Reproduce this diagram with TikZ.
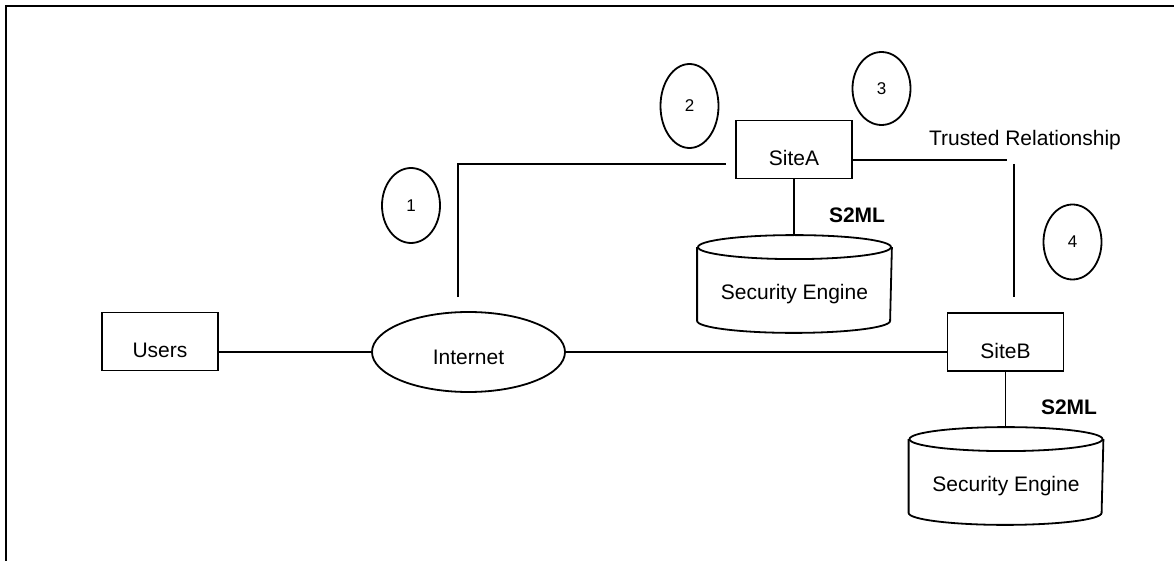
\documentclass[tikz,border=0pt]{standalone}
\usepackage{fontspec}
\setmainfont{Liberation Sans}
\usetikzlibrary{shapes.geometric}

\begin{document}
\begin{tikzpicture}[
    x=0.5pt, y=0.5pt,
    line width=0.9pt,
    font=\fontsize{10.5}{12}\selectfont,
    sitio/.style={draw, rectangle, inner sep=0pt, minimum width=58pt,
                  text height=22.75pt, text depth=6.25pt},
    paso/.style={draw, ellipse, inner sep=0pt, minimum width=29pt,
                 minimum height=37.5pt, font=\fontsize{8.5}{10}\selectfont},
    red/.style={draw, ellipse, inner sep=0pt, minimum width=96.5pt,
                minimum height=40pt, text height=12.5pt, text depth=0pt},
    motor/.style={inner sep=0pt, minimum width=96.5pt,
                  text height=31.75pt, text depth=16.25pt},
    etiq/.style={font=\fontsize{10.5}{12}\selectfont\bfseries},
    marco/.style={line width=1pt}
  ]
    \useasboundingbox (0,0) rectangle (1174,-561);
    \draw[marco] (6,-561) -- (6,-6) -- (1174,-6);

    % main chain
    \node[sitio] (users) at (160,-341.5) {Users};
    \node[red] (internet) at (468.5,-352) {Internet};
    \node[sitio] (siteA) at (794,-149.5) {SiteA};
    \node[sitio] (siteB) at (1005.5,-342) {SiteB};
    \node[motor] (engineA) at (794.5,-284) {Security Engine};
    \node[motor] (engineB) at (1006,-476) {Security Engine};

    % numbered steps
    \node[paso] (p1) at (411,-205.5) {1};
    \node[paso, minimum height=42pt] (p2) at (689.5,-106) {2};
    \node[paso, minimum height=36.5pt] (p3) at (881.5,-88.5) {3};
    \node[paso] (p4) at (1072.5,-242) {4};

    \node[etiq] (s2mlA) at (857,-215) {S2ML};
    \node[etiq] (s2mlB) at (1069,-407) {S2ML};
    \node (confianza) at (1025,-140) {Trusted Relationship};

    % cylinders behind the engine texts
    \foreach \e in {engineA,engineB} {
      \draw ([yshift=-6pt]\e.north west) -- ([yshift=6pt]\e.south west)
        arc[start angle=180, end angle=360, x radius=48.25pt, y radius=6pt]
        -- ([yshift=-6pt]\e.north east);
      \draw ([yshift=-6pt]\e.north) ellipse[x radius=48.25pt, y radius=6pt];
    }

    \coordinate (bendA) at (458,-164);
    \coordinate (trustH) at (1007,-160);
    \coordinate (trustV) at (1014,-164);

    \draw (users.east |- internet.west) -- (internet.west);
    \draw (internet.east) -- (siteB.west |- internet.east);
    \draw[shorten <=7pt, shorten >=4.5pt]
      (internet.north -| bendA) -- (bendA) -- (siteA.west |- bendA);
    \draw (siteA.south) -- (siteA.south |- engineA.north);
    \draw (siteB.south) -- (siteB.south |- engineB.north);
    \draw (siteA.east |- trustH) -- (trustH);
    \draw[shorten >=7.5pt] (trustV) -- (siteB.north -| trustV);
  \end{tikzpicture}
\end{document}
